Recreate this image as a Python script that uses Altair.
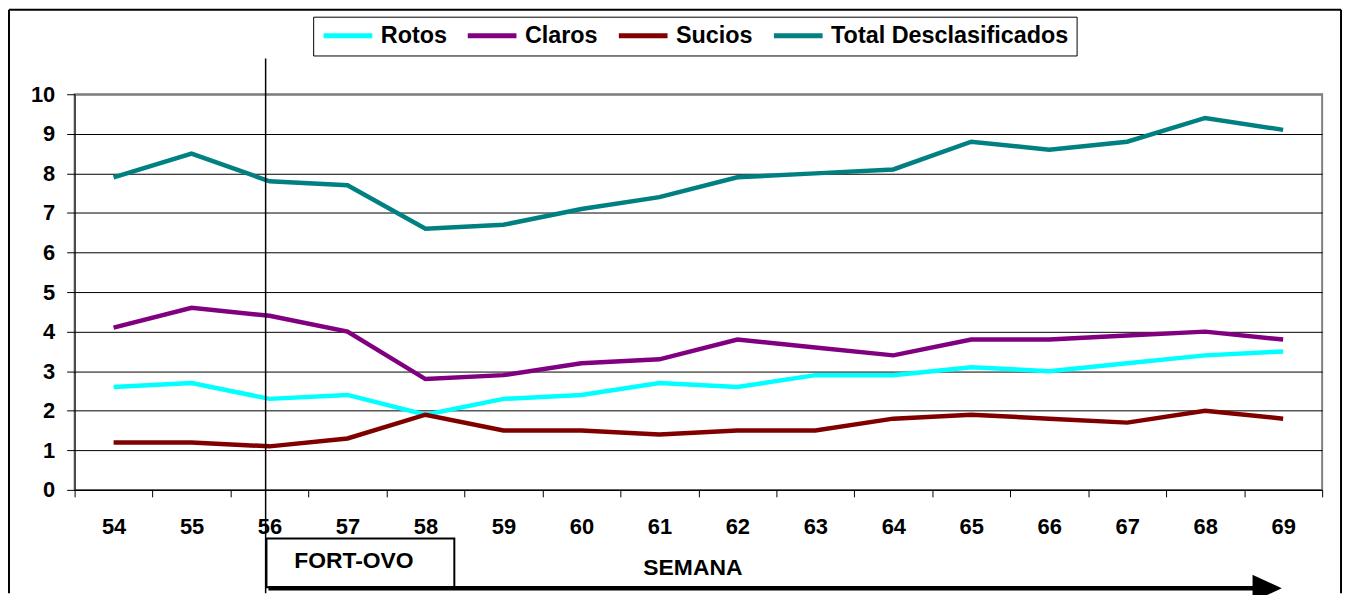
import altair as alt
import pandas as pd

semanas = [54, 55, 56, 57, 58, 59, 60, 61, 62, 63, 64, 65, 66, 67, 68, 69]
rotos = [2.6, 2.7, 2.3, 2.4, 1.9, 2.3, 2.4, 2.7, 2.6, 2.9, 2.9, 3.1, 3.0, 3.2, 3.4, 3.5]
claros = [4.1, 4.6, 4.4, 4.0, 2.8, 2.9, 3.2, 3.3, 3.8, 3.6, 3.4, 3.8, 3.8, 3.9, 4.0, 3.8]
sucios = [1.2, 1.2, 1.1, 1.3, 1.9, 1.5, 1.5, 1.4, 1.5, 1.5, 1.8, 1.9, 1.8, 1.7, 2.0, 1.8]
total = [7.9, 8.5, 7.8, 7.7, 6.6, 6.7, 7.1, 7.4, 7.9, 8.0, 8.1, 8.8, 8.6, 8.8, 9.4, 9.1]

series_names = ["Rotos", "Claros", "Sucios", "Total Desclasificados"]
series_colors = ["#00FFFF", "#800080", "#800000", "#008080"]
y_ticks = list(range(0, 11))

rows = []
for name, vals in zip(series_names, [rotos, claros, sucios, total]):
    for s, v in zip(semanas, vals):
        rows.append({"semana": s, "serie": name, "valor": v})
df = pd.DataFrame(rows)

FONT = "Liberation Sans"
W, H = 1255, 398

xenc = alt.X(
    "semana:O",
    bandPosition=0.5,
    scale=alt.Scale(type="band", paddingInner=0, paddingOuter=0),
    axis=alt.Axis(
        title=None, labelAngle=0, tickBand="extent", tickSize=7,
        labelPadding=20, labelFont=FONT, labelFontSize=22, labelFontWeight="bold",
        labelColor="black", domainColor="black", tickColor="black", grid=False,
    ),
)

lines = alt.Chart(df).mark_line(strokeWidth=4.5).encode(
    x=xenc,
    y=alt.Y(
        "valor:Q",
        scale=alt.Scale(domain=[0, 10], nice=False),
        axis=alt.Axis(
            title=None, values=y_ticks, tickSize=8, labelPadding=12,
            labelFont=FONT, labelFontSize=22, labelFontWeight="bold", labelColor="black",
            domainColor="black", tickColor="black", grid=True,
            gridColor=alt.condition("datum.value == 10", alt.value("#808080"), alt.value("black")),
            gridWidth=alt.condition("datum.value == 10", alt.value(2), alt.value(1)),
        ),
    ),
    color=alt.Color(
        "serie:N",
        sort=series_names,
        scale=alt.Scale(domain=series_names, range=series_colors),
        legend=alt.Legend(
            title=None, orient="none", legendX=240, legendY=-78,
            direction="horizontal", columns=4, symbolType="stroke",
            symbolSize=2400, symbolStrokeWidth=5, labelFont=FONT,
            labelFontSize=23.5, labelFontWeight="bold", labelColor="black",
            labelLimit=400, labelOffset=6, columnPadding=18, padding=8,
            strokeColor="black", fillColor="white", clipHeight=22,
        ),
    ),
)

marker_df = pd.DataFrame({"semana": [56]})
vline = alt.Chart(marker_df).mark_rule(color="black", strokeWidth=1.5).encode(
    x=alt.X("semana:O", bandPosition=0.45),
    y=alt.value(-36), y2=alt.value(502),
)

box = alt.Chart(marker_df).mark_rect(fill="white", stroke="black", strokeWidth=2).encode(
    x=alt.value(193), x2=alt.value(382), y=alt.value(447), y2=alt.value(496)
)
box_text = alt.Chart(pd.DataFrame({"t": ["FORT-OVO"]})).mark_text(
    font=FONT, fontSize=23, fontWeight="bold", color="black", align="center", baseline="middle"
).encode(text="t:N", x=alt.value(281), y=alt.value(470))

arrow_line = alt.Chart(marker_df).mark_rule(color="black", strokeWidth=4.5).encode(
    x=alt.value(195), x2=alt.value(1190), y=alt.value(497)
)
arrow_head = alt.Chart(marker_df).mark_point(
    shape="M-1,-0.92L1,0L-1,0.92Z", filled=True, fill="black", stroke="black",
    size=676, opacity=1,
).encode(x=alt.value(1199), y=alt.value(497))
semana_text = alt.Chart(pd.DataFrame({"t": ["SEMANA"]})).mark_text(
    font=FONT, fontSize=23, fontWeight="bold", color="black", align="center", baseline="middle"
).encode(text="t:N", x=alt.value(622), y=alt.value(477))

border_left = alt.Chart(marker_df).mark_rule(color="black", strokeWidth=2).encode(
    x=alt.value(-66), y=alt.value(-85), y2=alt.value(502)
)
border_top = alt.Chart(marker_df).mark_rule(color="black", strokeWidth=2).encode(
    x=alt.value(-66), x2=alt.value(1274), y=alt.value(-85)
)
border_right = alt.Chart(marker_df).mark_rule(color="black", strokeWidth=2).encode(
    x=alt.value(1274), y=alt.value(-85), y2=alt.value(502)
)

chart = alt.layer(
    lines, vline, box, box_text, arrow_line, arrow_head, semana_text,
    border_left, border_top, border_right,
).properties(
    width=W, height=H,
    autosize=alt.AutoSizeParams(type="none"),
    padding={"left": 67, "top": 85, "right": 22, "bottom": 104},
).configure_view(stroke="#808080", strokeWidth=2)

chart.save("out.html", embed_options={"renderer": "svg", "actions": False})
